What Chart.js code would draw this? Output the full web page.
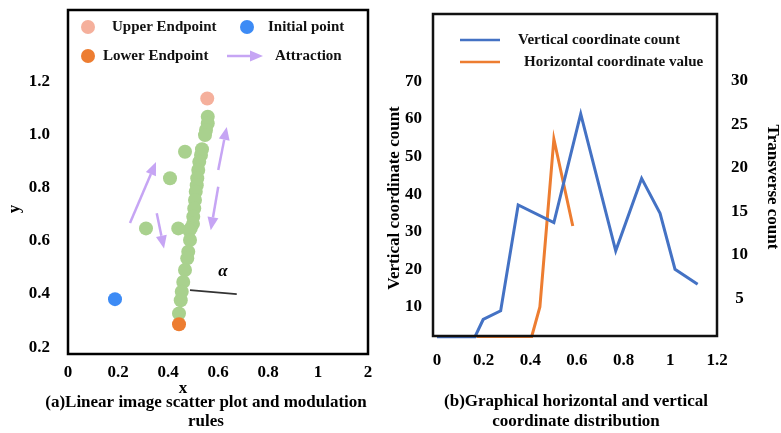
<!DOCTYPE html>
<html>
<head>
<meta charset="utf-8">
<script src="https://cdn.jsdelivr.net/npm/chart.js@4.4.1/dist/chart.umd.min.js"></script>
<style>
  body { margin: 0; background: #fff; width: 781px; height: 433px; position: relative; overflow: hidden; }
  canvas { position: absolute; top: 0; }
  #scatter { left: 0; }
  #dist { left: 380px; }
</style>
</head>
<body>
<canvas id="scatter" width="380" height="433"></canvas>
<canvas id="dist" width="401" height="433"></canvas>
<script>
// ---- panel (a): scatter ----
const upperEndpoint = [[0.557, 1.138]];
const lowerEndpoint = [[0.444, 0.286]];
const initialPoint = [[0.188, 0.381]];
const samplePoints = [
  [0.559, 1.069], [0.559, 1.044], [0.552, 1.019], [0.548, 1.000], [0.536, 0.947],
  [0.532, 0.925], [0.525, 0.899], [0.521, 0.868], [0.517, 0.837], [0.515, 0.811],
  [0.511, 0.786], [0.508, 0.755], [0.505, 0.723], [0.501, 0.692], [0.500, 0.665],
  [0.491, 0.648], [0.485, 0.640], [0.488, 0.604], [0.481, 0.560], [0.477, 0.535],
  [0.468, 0.491], [0.461, 0.446], [0.455, 0.409], [0.451, 0.377], [0.444, 0.327],
  [0.468, 0.937], [0.408, 0.837], [0.312, 0.648], [0.441, 0.648]
];
// attraction arrows: [x tail, y tail, x tip, y tip]
const attraction = [
  [0.248, 0.668, 0.352, 0.898],
  [0.355, 0.705, 0.384, 0.572],
  [0.601, 0.868, 0.635, 1.031],
  [0.601, 0.805, 0.571, 0.641]
];
const angleLine = [0.488, 0.415, 0.675, 0.400];
const angleLabel = [0.62, 0.483];
const xTicksA = [0, 0.2, 0.4, 0.6, 0.8, 1.0, 1.2];
const yTicksA = [0.2, 0.4, 0.6, 0.8, 1.0, 1.2];

// ---- panel (b): distribution ----
const verticalX = [0, 0.163, 0.198, 0.273, 0.348, 0.501, 0.616, 0.766, 0.877, 0.956, 1.020, 1.117];
const verticalCount = [2, 2, 6.6, 8.9, 37.1, 32.4, 61.4, 24.9, 44.2, 34.9, 20.0, 16.0];
const horizontalX = [0.170, 0.406, 0.441, 0.501, 0.582];
const horizontalValue = [0.6, 0.6, 4.0, 23.3, 13.3];
const xTicksB = [0, 0.2, 0.4, 0.6, 0.8, 1.0, 1.2];
const leftTicksB = [10, 20, 30, 40, 50, 60, 70];
const rightTicksB = [5, 10, 15, 20, 25, 30];

const serif = "'Liberation Serif', 'Times New Roman', serif";
Chart.defaults.font.family = serif;
Chart.defaults.color = '#000';

const toXY = arr => arr.map(p => ({ x: p[0], y: p[1] }));
const fixTicks = vals => s => { s.ticks = vals.map(v => ({ value: v })); };
const noPad = s => { s.paddingTop = 0; s.paddingBottom = 0; s.paddingLeft = 0; s.paddingRight = 0; };
const tickFont = { size: 17, weight: 'bold' };
const fmt = v => Number(v.toFixed(1)).toString();

function label(ctx, str, x, y, size, rot, style) {
  ctx.save();
  ctx.font = (style || 'bold') + ' ' + size + 'px ' + serif;
  ctx.fillStyle = '#000';
  ctx.textAlign = 'center';
  ctx.textBaseline = 'middle';
  ctx.translate(x, y);
  if (rot) ctx.rotate(rot);
  ctx.fillText(str, 0, 0);
  ctx.restore();
}

function leftText(ctx, str, x, y) {
  ctx.save();
  ctx.font = 'bold 15px ' + serif;
  ctx.fillStyle = '#111';
  ctx.textAlign = 'left';
  ctx.textBaseline = 'middle';
  ctx.fillText(str, x, y);
  ctx.restore();
}

function arrow(ctx, x1, y1, x2, y2) {
  const ang = Math.atan2(y2 - y1, x2 - x1);
  const len = 13, half = 5.5;
  const bx = x2 - len * Math.cos(ang), by = y2 - len * Math.sin(ang);
  ctx.beginPath();
  ctx.moveTo(x1, y1);
  ctx.lineTo(bx, by);
  ctx.stroke();
  ctx.beginPath();
  ctx.moveTo(x2, y2);
  ctx.lineTo(bx + half * Math.sin(ang), by - half * Math.cos(ang));
  ctx.lineTo(bx - half * Math.sin(ang), by + half * Math.cos(ang));
  ctx.closePath();
  ctx.fill();
}

function dot(ctx, x, y, color) {
  ctx.beginPath();
  ctx.arc(x, y, 7, 0, Math.PI * 2);
  ctx.fillStyle = color;
  ctx.fill();
}

const arrowColor = '#C6A5F4';

const scatterDecor = {
  id: 'scatterDecor',
  beforeDatasetsDraw(chart) {
    const { ctx, scales: { x, y } } = chart;
    ctx.save();
    ctx.strokeStyle = arrowColor;
    ctx.fillStyle = arrowColor;
    ctx.lineWidth = 2.5;
    attraction.forEach(a => arrow(ctx,
      x.getPixelForValue(a[0]), y.getPixelForValue(a[1]),
      x.getPixelForValue(a[2]), y.getPixelForValue(a[3])));
    ctx.strokeStyle = '#333';
    ctx.lineWidth = 1.8;
    ctx.beginPath();
    ctx.moveTo(x.getPixelForValue(angleLine[0]), y.getPixelForValue(angleLine[1]));
    ctx.lineTo(x.getPixelForValue(angleLine[2]), y.getPixelForValue(angleLine[3]));
    ctx.stroke();
    ctx.restore();
    label(ctx, 'α', x.getPixelForValue(angleLabel[0]), y.getPixelForValue(angleLabel[1]), 17, 0, 'italic bold');
  },
  afterDraw(chart) {
    const { ctx, chartArea: a } = chart;
    ctx.save();
    ctx.strokeStyle = '#000';
    ctx.lineWidth = 2.5;
    ctx.strokeRect(a.left, a.top, a.right - a.left, a.bottom - a.top);
    // legend
    dot(ctx, 88, 27, '#F5B09C');
    leftText(ctx, 'Upper Endpoint', 112, 27);
    dot(ctx, 247, 27, '#3D8BF5');
    leftText(ctx, 'Initial point', 268, 27);
    dot(ctx, 88, 56, '#ED7D31');
    leftText(ctx, 'Lower Endpoint', 103, 56);
    ctx.strokeStyle = arrowColor;
    ctx.fillStyle = arrowColor;
    ctx.lineWidth = 2.5;
    arrow(ctx, 227, 56, 263, 56);
    leftText(ctx, 'Attraction', 275, 56);
    ctx.restore();
    label(ctx, 'y', 15, 209, 17, -Math.PI / 2);
    label(ctx, 'x', 183, 389, 17);
    label(ctx, '(a)Linear image scatter plot and modulation', 206, 403, 17);
    label(ctx, 'rules', 206, 422, 17);
  }
};

new Chart(document.getElementById('scatter'), {
  type: 'scatter',
  data: {
    datasets: [
      { data: toXY(upperEndpoint), backgroundColor: '#F5B09C' },
      { data: toXY(lowerEndpoint), backgroundColor: '#ED7D31' },
      { data: toXY(initialPoint), backgroundColor: '#3D8BF5' },
      { data: toXY(samplePoints), backgroundColor: '#A9D18E' }
    ].map(d => Object.assign(d, { pointRadius: 7, borderWidth: 0, clip: false }))
  },
  options: {
    responsive: false,
    animation: false,
    events: [],
    layout: { padding: { top: 10, right: 12, bottom: 0, left: 0 } },
    plugins: { legend: { display: false }, tooltip: { enabled: false } },
    scales: {
      x: {
        type: 'linear', min: 0, max: 1.2,
        grid: { display: false, drawTicks: false }, border: { display: false },
        afterBuildTicks: fixTicks(xTicksA),
        afterFit: s => { s.height = 79; noPad(s); },
        ticks: { padding: 8, font: tickFont, callback: v => Math.abs(v - 1.2) < 1e-6 ? '2' : fmt(v) }
      },
      y: {
        type: 'linear', min: 0.174, max: 1.472,
        grid: { display: false, drawTicks: false }, border: { display: false },
        afterBuildTicks: fixTicks(yTicksA),
        afterFit: s => { s.width = 68; noPad(s); },
        ticks: { padding: 18, font: tickFont, callback: v => v.toFixed(1) }
      }
    }
  },
  plugins: [scatterDecor]
});

const distDecor = {
  id: 'distDecor',
  afterDraw(chart) {
    const { ctx, chartArea: a } = chart;
    ctx.save();
    ctx.strokeStyle = '#111';
    ctx.lineWidth = 2.5;
    ctx.strokeRect(a.left, a.top, a.right - a.left, a.bottom - a.top);
    ctx.lineWidth = 2.5;
    ctx.strokeStyle = '#4472C4';
    ctx.beginPath(); ctx.moveTo(80, 40); ctx.lineTo(120, 40); ctx.stroke();
    ctx.strokeStyle = '#ED7D31';
    ctx.beginPath(); ctx.moveTo(80, 62); ctx.lineTo(120, 62); ctx.stroke();
    ctx.restore();
    leftText(ctx, 'Vertical coordinate count', 138, 40);
    leftText(ctx, 'Horizontal coordinate value', 144, 62);
    label(ctx, 'Vertical coordinate count', 15, 198, 17, -Math.PI / 2);
    label(ctx, 'Transverse count', 392, 187, 17, Math.PI / 2);
    label(ctx, '(b)Graphical horizontal and vertical', 196, 402, 17);
    label(ctx, 'coordinate distribution', 196, 422, 17);
  }
};

new Chart(document.getElementById('dist'), {
  type: 'scatter',
  data: {
    datasets: [
      {
        data: verticalX.map((x, i) => ({ x, y: verticalCount[i] })),
        yAxisID: 'y', borderColor: '#4472C4'
      },
      {
        data: horizontalX.map((x, i) => ({ x, y: horizontalValue[i] })),
        yAxisID: 'y2', borderColor: '#ED7D31'
      }
    ].map(d => Object.assign(d, { showLine: true, borderWidth: 3, pointRadius: 0, tension: 0, clip: false }))
  },
  options: {
    responsive: false,
    animation: false,
    events: [],
    layout: { padding: { top: 14, right: 0, bottom: 0, left: 0 } },
    plugins: { legend: { display: false }, tooltip: { enabled: false } },
    scales: {
      x: {
        type: 'linear', min: -0.017, max: 1.2,
        grid: { display: false, drawTicks: false }, border: { display: false },
        afterBuildTicks: fixTicks(xTicksB),
        afterFit: s => { s.height = 97; noPad(s); },
        ticks: { padding: 14, font: tickFont, callback: fmt }
      },
      y: {
        type: 'linear', position: 'left', min: 2.2, max: 88,
        grid: { display: false, drawTicks: false }, border: { display: false },
        afterBuildTicks: fixTicks(leftTicksB),
        afterFit: s => { s.width = 53; noPad(s); },
        ticks: { padding: 11, font: tickFont }
      },
      y2: {
        type: 'linear', position: 'right', min: 0.66, max: 37.67,
        grid: { display: false, drawTicks: false }, border: { display: false },
        afterBuildTicks: fixTicks(rightTicksB),
        afterFit: s => { s.width = 64; noPad(s); },
        ticks: { padding: 14, font: tickFont, crossAlign: 'center' }
      }
    }
  },
  plugins: [distDecor]
});
</script>
</body>
</html>
